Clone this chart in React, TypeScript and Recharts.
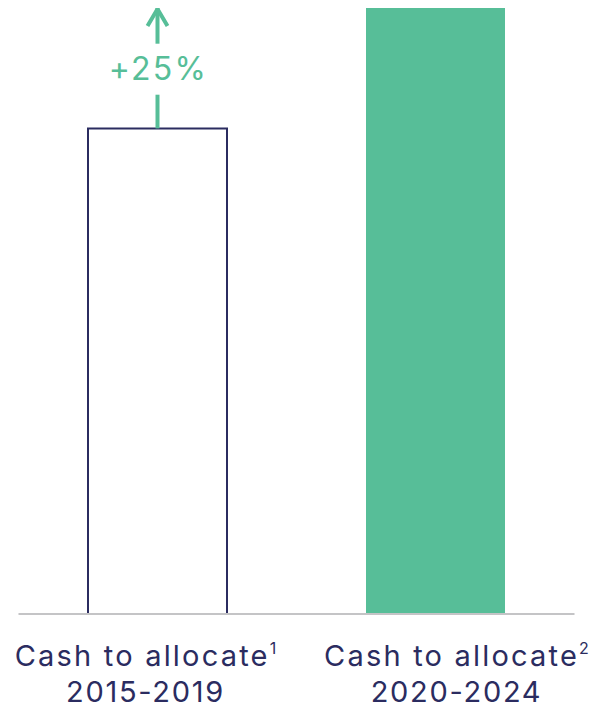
import React from 'react';
import { BarChart, Bar, XAxis, YAxis, Cell, LabelList } from 'recharts';

const categories = ['Cash to allocate|2015-2019', 'Cash to allocate|2020-2024'];
const footnotes = ['1', '2'];
const values = [100, 125];
const growthLabel = '+25%';

const data = categories.map((name, i) => ({ name, value: values[i], note: footnotes[i] }));

const NAVY = '#2B2C60';
const GREEN = '#57BE98';
const FONT = 'Inter, sans-serif';

// the labels are not centred exactly under the bars in the original
const tickShift = [-12, 21];

const CategoryTick = (props: any) => {
  const { x, y, payload, index } = props;
  const [top, bottom] = String(payload.value).split('|');
  const cx = x + tickShift[index];
  return (
    <text x={cx} y={y + 44} textAnchor="middle" fill={NAVY} fontFamily={FONT} fontSize={29}>
      <tspan letterSpacing={2.2}>{top}</tspan>
      <tspan fontSize={16} dy={-12}>{footnotes[index]}</tspan>
      <tspan x={cx} dy={48} letterSpacing={1.7}>{bottom}</tspan>
    </text>
  );
};

const GrowthArrow = (props: any) => {
  const { x, y, width, height, index } = props;
  if (index !== 0) return null;
  const cx = x + width / 2;
  const base = y + height;
  const topY = base - height * (values[1] / values[0]);
  const midY = (y + topY) / 2;
  return (
    <g>
      <line x1={cx} y1={y} x2={cx} y2={midY + 27} stroke={GREEN} strokeWidth={4} />
      <line x1={cx} y1={midY - 24} x2={cx} y2={topY + 1} stroke={GREEN} strokeWidth={4} />
      <polyline
        points={`${cx - 10},${topY + 19} ${cx},${topY + 2} ${cx + 10},${topY + 19}`}
        fill="none"
        stroke={GREEN}
        strokeWidth={4}
      />
      <text x={cx + 1} y={midY} dy={12} textAnchor="middle" fill={GREEN} fontFamily={FONT} fontSize={32} letterSpacing={2.3}>
        {growthLabel}
      </text>
    </g>
  );
};

export default function App() {
  return (
    <div style={{ marginTop: -8, marginLeft: -8, background: '#fff' }}>
      <BarChart
        width={598}
        height={709}
        data={data}
        margin={{ top: 7, right: 23.5, bottom: 0, left: 18.5 }}
        barCategoryGap="25%"
      >
        <YAxis hide domain={[0, 125]} />
        <XAxis
          dataKey="name"
          height={95}
          tickLine={false}
          axisLine={{ stroke: '#C4C4C6', strokeWidth: 2 }}
          tick={<CategoryTick />}
          interval={0}
        />
        <Bar dataKey="value" isAnimationActive={false}>
          {data.map((d, i) => (
            <Cell
              key={d.name}
              fill={i === 0 ? '#FFFFFF' : GREEN}
              stroke={i === 0 ? NAVY : 'none'}
              strokeWidth={i === 0 ? 2 : 0}
            />
          ))}
          <LabelList dataKey="value" content={<GrowthArrow />} />
        </Bar>
      </BarChart>
    </div>
  );
}
